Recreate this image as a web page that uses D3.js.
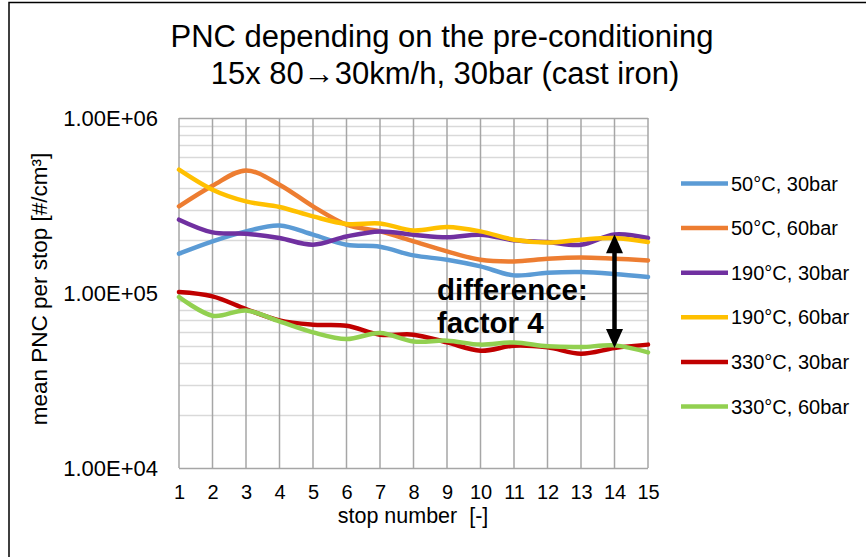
<!DOCTYPE html>
<html>
<head>
<meta charset="utf-8">
<script src="https://cdn.jsdelivr.net/npm/d3@7"></script>
<style>
  html, body { margin: 0; padding: 0; background: #fff; }
  svg { display: block; font-family: "Liberation Sans", Arial, sans-serif; }
</style>
</head>
<body>
<svg id="chart" width="866" height="557"></svg>
<script>
// Stop numbers along the x axis
const stops = [1, 2, 3, 4, 5, 6, 7, 8, 9, 10, 11, 12, 13, 14, 15];

// Mean PNC per stop [#/cm³] for each pre-conditioning
const pnc50c30bar  = [167700, 197200, 224900, 243300, 215400, 188800, 183700, 164000, 154900, 141900, 126100, 130600, 131800, 128500, 123500];
const pnc50c60bar  = [312600, 410300, 501900, 415900, 312600, 245600, 224900, 197200, 173000, 154900, 151600, 157000, 159700, 157000, 153600];
const pnc190c30bar = [262400, 222000, 218300, 206200, 188800, 210500, 224900, 215400, 208000, 215400, 200000, 195600, 188800, 216300, 206200];
const pnc190c60bar = [506500, 389300, 333700, 310000, 274000, 248000, 249500, 227800, 238300, 224900, 201700, 194500, 201700, 206200, 195600];
const pnc330c30bar = [101300, 95600, 81000, 69700, 65900, 65000, 57800, 57800, 52200, 46800, 50000, 48900, 45000, 48500, 50700];
const pnc330c60bar = [94900, 74200, 79500, 68800, 59600, 54600, 59100, 52900, 53400, 50700, 52200, 49600, 49100, 50200, 45800];

const seriesNames  = ["50°C, 30bar", "50°C, 60bar", "190°C, 30bar", "190°C, 60bar", "330°C, 30bar", "330°C, 60bar"];
const seriesValues = [pnc50c30bar, pnc50c60bar, pnc190c30bar, pnc190c60bar, pnc330c30bar, pnc330c60bar];
const seriesColors = ["#5b9bd5", "#ed7d31", "#7030a0", "#ffc000", "#c00000", "#92d050"];

// Axis ticks
const yTickValues = [1e4, 1e5, 1e6];
const yTickLabels = ["1.00E+04", "1.00E+05", "1.00E+06"];

// Annotation: gap between highest and lowest series at stop 14
const arrowStop = 14;
const arrowTop = pnc190c30bar[13];
const arrowBottom = pnc330c30bar[13];
const noteLines = ["difference:", "factor 4"];

const svg = d3.select("#chart");
const margin = { left: 179, right: 648, top: 118, bottom: 468 };

const x = d3.scaleLinear().domain([1, 15]).range([margin.left, margin.right]);
const y = d3.scaleLog().domain([1e4, 1e6]).range([margin.bottom, margin.top]);

// Outer frame (left and top edges visible)
svg.append("path")
  .attr("d", `M9,557 L9,2.5 L866,2.5`)
  .attr("fill", "none").attr("stroke", "#000").attr("stroke-width", 1.5);

// Title
const title = svg.append("text")
  .attr("text-anchor", "middle").attr("font-size", 31).attr("fill", "#000");
title.append("tspan").attr("x", 442).attr("y", 47).text("PNC depending on the pre-conditioning");
title.append("tspan").attr("x", 445).attr("y", 84).text("15x 80\u219230km/h, 30bar (cast iron)");

// Minor horizontal grid lines
const minorTicks = [];
for (let d = 1e4; d < 1e6; d *= 10) {
  for (let m = 2; m <= 9; m++) minorTicks.push(d * m);
}
svg.append("g").selectAll("line").data(minorTicks).join("line")
  .attr("x1", margin.left).attr("x2", margin.right)
  .attr("y1", d => Math.round(y(d)) + 0.5).attr("y2", d => Math.round(y(d)) + 0.5)
  .attr("stroke", "#d9d9d9").attr("stroke-width", 1.5);

// Major horizontal grid lines
svg.append("g").selectAll("line").data(yTickValues).join("line")
  .attr("x1", margin.left).attr("x2", margin.right)
  .attr("y1", d => Math.round(y(d)) + 0.5).attr("y2", d => Math.round(y(d)) + 0.5)
  .attr("stroke", "#a6a6a6").attr("stroke-width", 1.5);

// Vertical grid lines at each stop
svg.append("g").selectAll("line").data(stops).join("line")
  .attr("x1", d => x(d)).attr("x2", d => x(d))
  .attr("y1", margin.top).attr("y2", margin.bottom)
  .attr("stroke", "#a6a6a6").attr("stroke-width", 1.5);

// Y axis labels
const yAxis = d3.axisLeft(y).tickValues(yTickValues)
  .tickFormat((d, i) => yTickLabels[i]).tickSize(0).tickPadding(21);
svg.append("g").attr("transform", `translate(${margin.left},0)`).call(yAxis)
  .call(g => g.select(".domain").remove())
  .call(g => g.selectAll("text").attr("font-size", 22).attr("fill", "#000")
    .attr("font-family", "Liberation Sans, Arial, sans-serif"));

// X axis labels
const xAxis = d3.axisBottom(x).tickValues(stops).tickFormat(d3.format("d"))
  .tickSize(0).tickPadding(17);
svg.append("g").attr("transform", `translate(0,${margin.bottom})`).call(xAxis)
  .call(g => g.select(".domain").remove())
  .call(g => g.selectAll("text").attr("font-size", 20).attr("fill", "#000")
    .attr("font-family", "Liberation Sans, Arial, sans-serif"));

// Axis titles
svg.append("text").attr("x", 413).attr("y", 523).attr("text-anchor", "middle")
  .attr("font-size", 21.5).attr("fill", "#000").attr("xml:space", "preserve")
  .text("stop number  [-]");
svg.append("text").attr("transform", "translate(47,289) rotate(-90)")
  .attr("text-anchor", "middle").attr("font-size", 22.5).attr("fill", "#000")
  .text("mean PNC per stop [#/cm³]");

// Series lines (smoothed)
const line = d3.line()
  .x((d, i) => x(stops[i]))
  .y(d => y(d))
  .curve(d3.curveCatmullRom.alpha(0));

svg.append("g").selectAll("path").data(seriesValues).join("path")
  .attr("d", d => line(d))
  .attr("fill", "none")
  .attr("stroke", (d, i) => seriesColors[i])
  .attr("stroke-width", 4.5)
  .attr("stroke-linejoin", "round").attr("stroke-linecap", "round");

// Double-headed arrow
const ax = x(arrowStop);
const yTop = y(arrowTop), yBot = y(arrowBottom);
const headH = 19, headW = 8.5;
svg.append("line")
  .attr("x1", ax).attr("x2", ax)
  .attr("y1", yTop + headH - 1).attr("y2", yBot - headH + 1)
  .attr("stroke", "#000").attr("stroke-width", 4.5);
svg.append("path")
  .attr("d", `M${ax},${yTop} L${ax - headW},${yTop + headH} L${ax + headW},${yTop + headH} Z`)
  .attr("fill", "#000");
svg.append("path")
  .attr("d", `M${ax},${yBot} L${ax - headW},${yBot - headH} L${ax + headW},${yBot - headH} Z`)
  .attr("fill", "#000");

// Annotation text
svg.append("g").selectAll("text").data(noteLines).join("text")
  .attr("x", 437).attr("y", (d, i) => 300 + i * 33)
  .attr("font-size", 29.5).attr("font-weight", "bold").attr("fill", "#000")
  .text(d => d);

// Legend
const legend = svg.append("g").selectAll("g").data(seriesNames).join("g")
  .attr("transform", (d, i) => `translate(681,${183.5 + i * 44.6})`);
legend.append("line")
  .attr("x1", 0).attr("x2", 47).attr("y1", 0).attr("y2", 0)
  .attr("stroke", (d, i) => seriesColors[i]).attr("stroke-width", 4.5);
legend.append("text")
  .attr("x", 50).attr("y", 7).attr("font-size", 20).attr("fill", "#000")
  .text(d => d);
</script>
</body>
</html>
